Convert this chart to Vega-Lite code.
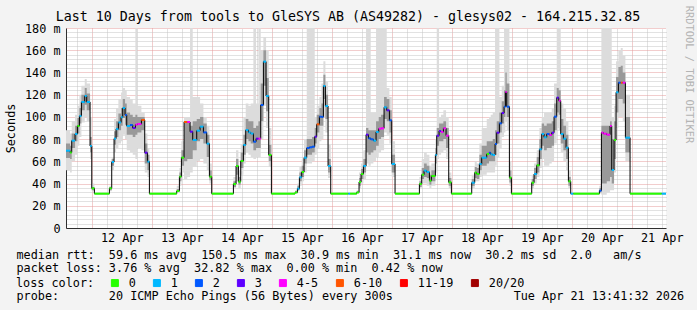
{
"$schema":"https://vega.github.io/schema/vega-lite/v6.json",
"width":600,"height":200,
"autosize":{"type":"none"},
"padding":{"left":66,"top":28,"right":31,"bottom":82},
"background":"#f3f3f3",
"view":{"fill":"#ffffff","stroke":null},
"config":{"font":"DejaVu Sans Mono","axis":{"labelFont":"DejaVu Sans Mono","titleFont":"DejaVu Sans Mono","labelColor":"#000000","titleColor":"#000000","titleFontWeight":"normal","labelFontSize":11.8,"titleFontSize":11.8}},
"title":{"text":"Last 10 Days from tools to GleSYS AB (AS49282) - glesys02 - 164.215.32.85","font":"DejaVu Sans Mono","fontSize":13.3,"fontWeight":"normal","color":"#000000","anchor":"middle","frame":"group","dx":-18,"dy":34,"offset":5,"baseline":"alphabetic"},
"data":{"values":[
{"time":"2026-04-11T13:41:32","median":69.6,"loss":"1","min":52,"max":88,"lo":63,"hi":76},
{"time":"2026-04-11T15:19","median":68,"loss":"0","min":50,"max":85,"lo":62,"hi":74},
{"time":"2026-04-11T15:59","median":78.6,"loss":"1","min":60,"max":96,"lo":72,"hi":85},
{"time":"2026-04-11T17:19","median":84.6,"loss":"1","min":66,"max":102,"lo":78,"hi":92},
{"time":"2026-04-11T18:15","median":91.8,"loss":"0","min":74,"max":110,"lo":85,"hi":99},
{"time":"2026-04-11T19:03","median":100.8,"loss":"1","min":82,"max":120,"lo":94,"hi":108},
{"time":"2026-04-11T19:51","median":113.4,"loss":"1","min":95,"max":128,"lo":106,"hi":120},
{"time":"2026-04-11T21:11","median":118.8,"loss":"1","min":100,"max":134,"lo":111,"hi":126},
{"time":"2026-04-11T21:59","median":113.4,"loss":"1","min":96,"max":130,"lo":106,"hi":121},
{"time":"2026-04-11T23:19","median":73.8,"loss":"1","min":62,"max":100,"lo":68,"hi":82},
{"time":"2026-04-12T00:00","median":35.7,"loss":"0","min":33,"max":40,"lo":34,"hi":37},
{"time":"2026-04-12T01:03","median":30.9,"loss":"0","min":30.4,"max":31.6,"lo":30.9,"hi":30.9},
{"time":"2026-04-12T07:03","median":35.7,"loss":"0","min":33,"max":38,"lo":34,"hi":37},
{"time":"2026-04-12T07:59","median":59.4,"loss":"1","min":52,"max":64,"lo":56,"hi":62},
{"time":"2026-04-12T08:55","median":80.4,"loss":"1","min":68,"max":98,"lo":75,"hi":87},
{"time":"2026-04-12T09:43","median":89,"loss":"1","min":72,"max":108,"lo":82,"hi":96},
{"time":"2026-04-12T10:39","median":95,"loss":"1","min":76,"max":116,"lo":88,"hi":103},
{"time":"2026-04-12T11:43","median":99.6,"loss":"1","min":78,"max":122,"lo":92,"hi":108},
{"time":"2026-04-12T12:23","median":108,"loss":"1","min":84,"max":126,"lo":99,"hi":116},
{"time":"2026-04-12T13:19","median":101.7,"loss":"2","min":80,"max":124,"lo":93,"hi":112},
{"time":"2026-04-12T13:59","median":91.8,"loss":"1","min":70,"max":118,"lo":84,"hi":104},
{"time":"2026-04-12T15:19","median":92.7,"loss":"2","min":68,"max":116,"lo":84,"hi":102},
{"time":"2026-04-12T16:23","median":90,"loss":"3","min":66,"max":112,"lo":82,"hi":100},
{"time":"2026-04-12T17:27","median":93,"loss":"4-5","min":62,"max":200,"lo":84,"hi":102},
{"time":"2026-04-12T18:15","median":93.6,"loss":"4-5","min":72,"max":110,"lo":86,"hi":100},
{"time":"2026-04-12T19:51","median":97.2,"loss":"6-10","min":70,"max":104,"lo":88,"hi":100},
{"time":"2026-04-12T21:11","median":67.8,"loss":"3","min":50,"max":85,"lo":58,"hi":76},
{"time":"2026-04-12T22:15","median":59.7,"loss":"1","min":46,"max":72,"lo":52,"hi":66},
{"time":"2026-04-12T23:03","median":30.9,"loss":"0","min":30.4,"max":31.6,"lo":30.9,"hi":30.9},
{"time":"2026-04-13T09:59","median":33.3,"loss":"0","min":32,"max":38,"lo":32.5,"hi":35},
{"time":"2026-04-13T11:03","median":46.2,"loss":"0","min":38,"max":54,"lo":42,"hi":50},
{"time":"2026-04-13T11:51","median":63.3,"loss":"0","min":50,"max":78,"lo":56,"hi":70},
{"time":"2026-04-13T12:55","median":95.4,"loss":"6-10","min":44,"max":100,"lo":60,"hi":96},
{"time":"2026-04-13T14:12","median":95.4,"loss":"4-5","min":46,"max":100,"lo":62,"hi":95},
{"time":"2026-04-13T15:19","median":86.7,"loss":"3","min":50,"max":200,"lo":62,"hi":92},
{"time":"2026-04-13T16:23","median":79.2,"loss":"1","min":55,"max":118,"lo":70,"hi":96},
{"time":"2026-04-13T17:59","median":87.6,"loss":"1","min":60,"max":118,"lo":78,"hi":98},
{"time":"2026-04-13T19:19","median":91.2,"loss":"1","min":62,"max":112,"lo":80,"hi":100},
{"time":"2026-04-13T20:39","median":86,"loss":"2","min":58,"max":100,"lo":76,"hi":94},
{"time":"2026-04-13T21:59","median":75.9,"loss":"1","min":52,"max":92,"lo":64,"hi":84},
{"time":"2026-04-13T23:03","median":46.2,"loss":"0","min":40,"max":58,"lo":43,"hi":52},
{"time":"2026-04-13T23:59","median":30.9,"loss":"0","min":30.4,"max":31.6,"lo":30.9,"hi":30.9},
{"time":"2026-04-14T08:39","median":39.6,"loss":"0","min":36,"max":46,"lo":37,"hi":42},
{"time":"2026-04-14T09:43","median":55.8,"loss":"0","min":42,"max":70,"lo":48,"hi":62},
{"time":"2026-04-14T10:39","median":41.7,"loss":"0","min":36,"max":52,"lo":39,"hi":46},
{"time":"2026-04-14T11:35","median":60.3,"loss":"0","min":48,"max":75,"lo":54,"hi":68},
{"time":"2026-04-14T12:39","median":74.7,"loss":"1","min":58,"max":100,"lo":66,"hi":84},
{"time":"2026-04-14T13:35","median":88.2,"loss":"1","min":68,"max":112,"lo":80,"hi":98},
{"time":"2026-04-14T14:39","median":86,"loss":"1","min":66,"max":110,"lo":78,"hi":96},
{"time":"2026-04-14T15:35","median":85,"loss":"1","min":64,"max":112,"lo":76,"hi":96},
{"time":"2026-04-14T16:39","median":77.7,"loss":"2","min":62,"max":200,"lo":70,"hi":90},
{"time":"2026-04-14T17:43","median":80.4,"loss":"3","min":64,"max":112,"lo":72,"hi":92},
{"time":"2026-04-14T18:39","median":80.4,"loss":"4-5","min":64,"max":200,"lo":72,"hi":96},
{"time":"2026-04-14T19:35","median":110.7,"loss":"2","min":80,"max":160,"lo":96,"hi":130},
{"time":"2026-04-14T20:39","median":149.7,"loss":"1","min":110,"max":172,"lo":128,"hi":160},
{"time":"2026-04-14T21:43","median":118.8,"loss":"1","min":90,"max":160,"lo":105,"hi":135},
{"time":"2026-04-14T22:47","median":65.7,"loss":"0","min":55,"max":90,"lo":60,"hi":75},
{"time":"2026-04-14T23:51","median":30.9,"loss":"0","min":30.4,"max":31.6,"lo":30.9,"hi":30.9},
{"time":"2026-04-15T09:19","median":32,"loss":"0","min":31,"max":34,"lo":31.5,"hi":33},
{"time":"2026-04-15T10:15","median":35.4,"loss":"1","min":33,"max":40,"lo":34,"hi":38},
{"time":"2026-04-15T11:03","median":45.6,"loss":"1","min":38,"max":55,"lo":42,"hi":50},
{"time":"2026-04-15T11:59","median":50.4,"loss":"0","min":42,"max":62,"lo":46,"hi":56},
{"time":"2026-04-15T12:55","median":63.3,"loss":"1","min":50,"max":80,"lo":58,"hi":70},
{"time":"2026-04-15T13:59","median":72,"loss":"2","min":58,"max":200,"lo":66,"hi":80},
{"time":"2026-04-15T15:03","median":72.6,"loss":"2","min":58,"max":200,"lo":66,"hi":80},
{"time":"2026-04-15T16:07","median":73.2,"loss":"2","min":60,"max":200,"lo":68,"hi":82},
{"time":"2026-04-15T17:11","median":82.2,"loss":"3","min":66,"max":100,"lo":76,"hi":90},
{"time":"2026-04-15T17:59","median":93.3,"loss":"6-10","min":72,"max":110,"lo":86,"hi":102},
{"time":"2026-04-15T19:03","median":100.2,"loss":"2","min":78,"max":118,"lo":92,"hi":108},
{"time":"2026-04-15T19:51","median":100,"loss":"2","min":80,"max":130,"lo":92,"hi":112},
{"time":"2026-04-15T20:39","median":127.8,"loss":"1","min":100,"max":150,"lo":116,"hi":138},
{"time":"2026-04-15T21:27","median":109.8,"loss":"1","min":86,"max":132,"lo":98,"hi":120},
{"time":"2026-04-15T22:31","median":55.8,"loss":"1","min":45,"max":75,"lo":50,"hi":62},
{"time":"2026-04-15T23:35","median":30.9,"loss":"0","min":30.4,"max":31.6,"lo":30.9,"hi":30.9},
{"time":"2026-04-16T06:39","median":30.9,"loss":"1","min":30.4,"max":31.6,"lo":30.9,"hi":30.9},
{"time":"2026-04-16T07:18","median":30.9,"loss":"0","min":30.4,"max":31.6,"lo":30.9,"hi":30.9},
{"time":"2026-04-16T09:59","median":32,"loss":"0","min":31,"max":34,"lo":31.5,"hi":33},
{"time":"2026-04-16T10:55","median":41.4,"loss":"0","min":36,"max":50,"lo":38,"hi":45},
{"time":"2026-04-16T11:43","median":48.6,"loss":"0","min":40,"max":58,"lo":44,"hi":53},
{"time":"2026-04-16T12:39","median":55.8,"loss":"1","min":44,"max":70,"lo":50,"hi":62},
{"time":"2026-04-16T13:43","median":84,"loss":"3","min":58,"max":200,"lo":68,"hi":90},
{"time":"2026-04-16T14:39","median":80.7,"loss":"2","min":56,"max":200,"lo":66,"hi":88},
{"time":"2026-04-16T15:35","median":79.8,"loss":"2","min":58,"max":104,"lo":68,"hi":88},
{"time":"2026-04-16T16:39","median":78.6,"loss":"1","min":60,"max":104,"lo":70,"hi":88},
{"time":"2026-04-16T17:43","median":86.4,"loss":"1","min":64,"max":200,"lo":74,"hi":96},
{"time":"2026-04-16T18:47","median":89.4,"loss":"4-5","min":68,"max":200,"lo":80,"hi":100},
{"time":"2026-04-16T19:43","median":89.7,"loss":"4-5","min":70,"max":200,"lo":82,"hi":102},
{"time":"2026-04-16T20:55","median":108.6,"loss":"1","min":86,"max":200,"lo":98,"hi":118},
{"time":"2026-04-16T21:59","median":105.9,"loss":"3","min":84,"max":126,"lo":96,"hi":116},
{"time":"2026-04-16T23:03","median":96.9,"loss":"2","min":76,"max":118,"lo":86,"hi":106},
{"time":"2026-04-16T23:59","median":57.6,"loss":"1","min":46,"max":78,"lo":50,"hi":66},
{"time":"2026-04-17T01:19","median":30.9,"loss":"0","min":30.4,"max":31.6,"lo":30.9,"hi":30.9},
{"time":"2026-04-17T11:03","median":39.6,"loss":"0","min":36,"max":46,"lo":37,"hi":42},
{"time":"2026-04-17T11:59","median":48,"loss":"0","min":40,"max":62,"lo":44,"hi":54},
{"time":"2026-04-17T12:55","median":51.6,"loss":"1","min":40,"max":68,"lo":46,"hi":58},
{"time":"2026-04-17T13:59","median":50.4,"loss":"1","min":38,"max":66,"lo":45,"hi":56},
{"time":"2026-04-17T15:03","median":42.6,"loss":"0","min":36,"max":56,"lo":39,"hi":48},
{"time":"2026-04-17T15:51","median":46.8,"loss":"0","min":38,"max":58,"lo":42,"hi":52},
{"time":"2026-04-17T17:27","median":65.7,"loss":"1","min":50,"max":80,"lo":58,"hi":72},
{"time":"2026-04-17T17:59","median":83.1,"loss":"3","min":62,"max":200,"lo":74,"hi":90},
{"time":"2026-04-17T18:55","median":87.3,"loss":"3","min":66,"max":100,"lo":78,"hi":94},
{"time":"2026-04-17T19:43","median":86.4,"loss":"4-5","min":68,"max":102,"lo":78,"hi":94},
{"time":"2026-04-17T20:39","median":89.7,"loss":"4-5","min":70,"max":106,"lo":80,"hi":96},
{"time":"2026-04-17T21:43","median":83.1,"loss":"4-5","min":62,"max":100,"lo":72,"hi":90},
{"time":"2026-04-17T22:47","median":41.1,"loss":"0","min":36,"max":50,"lo":38,"hi":45},
{"time":"2026-04-17T23:51","median":30.9,"loss":"0","min":30.4,"max":31.6,"lo":30.9,"hi":30.9},
{"time":"2026-04-18T07:59","median":40.8,"loss":"1","min":36,"max":48,"lo":38,"hi":44},
{"time":"2026-04-18T09:11","median":49.8,"loss":"0","min":42,"max":60,"lo":45,"hi":55},
{"time":"2026-04-18T09:59","median":48.6,"loss":"0","min":42,"max":58,"lo":44,"hi":54},
{"time":"2026-04-18T11:03","median":57.6,"loss":"1","min":46,"max":76,"lo":52,"hi":66},
{"time":"2026-04-18T11:59","median":63.3,"loss":"1","min":48,"max":90,"lo":56,"hi":74},
{"time":"2026-04-18T13:59","median":66.6,"loss":"0","min":50,"max":98,"lo":58,"hi":78},
{"time":"2026-04-18T14:55","median":67.8,"loss":"2","min":50,"max":100,"lo":60,"hi":78},
{"time":"2026-04-18T15:35","median":66.3,"loss":"1","min":50,"max":102,"lo":60,"hi":78},
{"time":"2026-04-18T16:23","median":65.7,"loss":"1","min":50,"max":104,"lo":60,"hi":80},
{"time":"2026-04-18T17:19","median":75.6,"loss":"2","min":56,"max":200,"lo":66,"hi":88},
{"time":"2026-04-18T17:59","median":85.8,"loss":"3","min":64,"max":200,"lo":76,"hi":96},
{"time":"2026-04-18T19:03","median":94.2,"loss":"2","min":72,"max":118,"lo":86,"hi":104},
{"time":"2026-04-18T19:59","median":103.5,"loss":"3","min":82,"max":128,"lo":94,"hi":114},
{"time":"2026-04-18T20:55","median":109.2,"loss":"2","min":86,"max":200,"lo":100,"hi":124},
{"time":"2026-04-18T21:27","median":122.4,"loss":"4-5","min":96,"max":200,"lo":110,"hi":140},
{"time":"2026-04-18T21:59","median":109.2,"loss":"2","min":88,"max":200,"lo":100,"hi":130},
{"time":"2026-04-18T23:03","median":45.3,"loss":"0","min":38,"max":60,"lo":41,"hi":52},
{"time":"2026-04-18T23:51","median":30.9,"loss":"0","min":30.4,"max":31.6,"lo":30.9,"hi":30.9},
{"time":"2026-04-19T07:59","median":40.8,"loss":"0","min":36,"max":48,"lo":38,"hi":44},
{"time":"2026-04-19T08:55","median":48.6,"loss":"1","min":40,"max":58,"lo":44,"hi":54},
{"time":"2026-04-19T09:59","median":56.4,"loss":"0","min":46,"max":70,"lo":50,"hi":64},
{"time":"2026-04-19T11:03","median":70.8,"loss":"1","min":54,"max":90,"lo":62,"hi":80},
{"time":"2026-04-19T11:59","median":84.6,"loss":"1","min":62,"max":100,"lo":74,"hi":94},
{"time":"2026-04-19T12:55","median":81.6,"loss":"1","min":56,"max":104,"lo":70,"hi":92},
{"time":"2026-04-19T13:59","median":84.6,"loss":"2","min":56,"max":104,"lo":72,"hi":94},
{"time":"2026-04-19T15:03","median":83.7,"loss":"4-5","min":58,"max":104,"lo":72,"hi":94},
{"time":"2026-04-19T15:59","median":85.8,"loss":"3","min":60,"max":108,"lo":74,"hi":96},
{"time":"2026-04-19T16:55","median":100.2,"loss":"2","min":76,"max":130,"lo":88,"hi":112},
{"time":"2026-04-19T17:59","median":117.3,"loss":"3","min":90,"max":200,"lo":104,"hi":126},
{"time":"2026-04-19T18:47","median":114.6,"loss":"4-5","min":88,"max":200,"lo":102,"hi":124},
{"time":"2026-04-19T19:35","median":84.6,"loss":"1","min":68,"max":112,"lo":76,"hi":98},
{"time":"2026-04-19T20:39","median":80.4,"loss":"1","min":60,"max":108,"lo":70,"hi":92},
{"time":"2026-04-19T21:43","median":72.3,"loss":"1","min":52,"max":96,"lo":62,"hi":84},
{"time":"2026-04-19T22:39","median":42,"loss":"0","min":36,"max":52,"lo":38,"hi":46},
{"time":"2026-04-19T23:35","median":30.9,"loss":"1","min":30.4,"max":31.6,"lo":30.9,"hi":30.9},
{"time":"2026-04-20T00:39","median":30.9,"loss":"0","min":30.4,"max":31.6,"lo":30.9,"hi":30.9},
{"time":"2026-04-20T11:03","median":33.6,"loss":"2","min":31,"max":38,"lo":32,"hi":36},
{"time":"2026-04-20T11:51","median":85.8,"loss":"4-5","min":30,"max":200,"lo":40,"hi":92},
{"time":"2026-04-20T12:39","median":84.9,"loss":"4-5","min":30,"max":200,"lo":40,"hi":92},
{"time":"2026-04-20T13:59","median":84,"loss":"4-5","min":32,"max":200,"lo":42,"hi":92},
{"time":"2026-04-20T15:19","median":91.8,"loss":"4-5","min":34,"max":200,"lo":46,"hi":96},
{"time":"2026-04-20T15:59","median":52.2,"loss":"1","min":34,"max":100,"lo":40,"hi":80},
{"time":"2026-04-20T16:55","median":79.2,"loss":"0","min":50,"max":110,"lo":62,"hi":96},
{"time":"2026-04-20T17:43","median":122.1,"loss":"1","min":90,"max":150,"lo":104,"hi":136},
{"time":"2026-04-20T18:39","median":130.8,"loss":"2","min":100,"max":160,"lo":116,"hi":145},
{"time":"2026-04-20T19:35","median":130.8,"loss":"6-10","min":100,"max":162,"lo":116,"hi":146},
{"time":"2026-04-20T20:23","median":130.8,"loss":"4-5","min":96,"max":155,"lo":112,"hi":140},
{"time":"2026-04-20T21:27","median":81.3,"loss":"1","min":60,"max":120,"lo":68,"hi":100},
{"time":"2026-04-20T23:19","median":30.9,"loss":"0","min":30.4,"max":31.6,"lo":30.9,"hi":30.9},
{"time":"2026-04-21T11:59","median":30.9,"loss":"1","min":30.4,"max":31.6,"lo":30.9,"hi":30.9},
{"time":"2026-04-21T13:41:32","median":30.9,"loss":"1","min":30.4,"max":31.6,"lo":30.9,"hi":30.9}
]},
"layer":[
{"mark":{"type":"area","interpolate":"step-after","color":"#dcdcdc","clip":true},
 "encoding":{
  "x":{"field":"time","type":"temporal","scale":{"domain":[{"year":2026,"month":4,"date":11,"hours":13,"minutes":41,"seconds":32},{"year":2026,"month":4,"date":21,"hours":13,"minutes":41,"seconds":32}],"nice":false},
   "axis":{"orient":"top","values":[
{"year":2026,"month":4,"date":11,"hours":18},
{"year":2026,"month":4,"date":12,"hours":6},{"year":2026,"month":4,"date":12,"hours":12},{"year":2026,"month":4,"date":12,"hours":18},
{"year":2026,"month":4,"date":13,"hours":6},{"year":2026,"month":4,"date":13,"hours":12},{"year":2026,"month":4,"date":13,"hours":18},
{"year":2026,"month":4,"date":14,"hours":6},{"year":2026,"month":4,"date":14,"hours":12},{"year":2026,"month":4,"date":14,"hours":18},
{"year":2026,"month":4,"date":15,"hours":6},{"year":2026,"month":4,"date":15,"hours":12},{"year":2026,"month":4,"date":15,"hours":18},
{"year":2026,"month":4,"date":16,"hours":6},{"year":2026,"month":4,"date":16,"hours":12},{"year":2026,"month":4,"date":16,"hours":18},
{"year":2026,"month":4,"date":17,"hours":6},{"year":2026,"month":4,"date":17,"hours":12},{"year":2026,"month":4,"date":17,"hours":18},
{"year":2026,"month":4,"date":18,"hours":6},{"year":2026,"month":4,"date":18,"hours":12},{"year":2026,"month":4,"date":18,"hours":18},
{"year":2026,"month":4,"date":19,"hours":6},{"year":2026,"month":4,"date":19,"hours":12},{"year":2026,"month":4,"date":19,"hours":18},
{"year":2026,"month":4,"date":20,"hours":6},{"year":2026,"month":4,"date":20,"hours":12},{"year":2026,"month":4,"date":20,"hours":18},
{"year":2026,"month":4,"date":21,"hours":6},{"year":2026,"month":4,"date":21,"hours":12}
   ],"grid":true,"gridColor":"#c4c4c4","gridDash":[1,1],"labels":false,"ticks":false,"domain":false,"title":null}},
  "y":{"field":"min","type":"quantitative","scale":{"domain":[0,180],"nice":false},
   "axis":{"orient":"right","values":[4,8,12,16,24,28,32,36,44,48,52,56,64,68,72,76,84,88,92,96,104,108,112,116,124,128,132,136,144,148,152,156,164,168,172,176],"grid":true,"gridColor":"#c4c4c4","gridDash":[1,1],"labels":false,"ticks":false,"domain":false,
    "title":"RRDTOOL / TOBI OETIKER","titleAngle":90,"titleX":22,"titleY":46,"titleAlign":"center","titleBaseline":"middle","titleColor":"#b4b4b4","titleFontSize":10.4}},
  "y2":{"field":"max"}
 }},
{"mark":{"type":"area","interpolate":"step-after","color":"#999999","clip":true},
 "encoding":{
  "x":{"field":"time","type":"temporal",
   "axis":{"orient":"bottom","values":[
{"year":2026,"month":4,"date":12},{"year":2026,"month":4,"date":13},{"year":2026,"month":4,"date":14},{"year":2026,"month":4,"date":15},{"year":2026,"month":4,"date":16},{"year":2026,"month":4,"date":17},{"year":2026,"month":4,"date":18},{"year":2026,"month":4,"date":19},{"year":2026,"month":4,"date":20},{"year":2026,"month":4,"date":21}
   ],"format":"%d %b","labelOffset":30,"labelFlush":false,"labelOverlap":false,"grid":true,"gridColor":"#e49a9a","gridDash":[1,1],"ticks":false,"labelPadding":4,"domainColor":"#303030",
   "title":["median rtt:\u00a0\u00a059.6 ms avg\u00a0\u00a0150.5 ms max\u00a0\u00a030.9 ms min\u00a0\u00a031.1 ms now\u00a0\u00a030.2 ms sd\u00a0\u00a02.0\u00a0\u00a0\u00a0am/s","packet loss: 3.76 % avg\u00a0\u00a032.82 % max\u00a0\u00a00.00 % min\u00a0\u00a00.42 % now","\u200b","probe:\u00a0\u00a0\u00a0\u00a0\u00a0\u00a0\u00a020 ICMP Echo Pings (56 Bytes) every 300s\u00a0\u00a0\u00a0\u00a0\u00a0\u00a0\u00a0\u00a0\u00a0\u00a0\u00a0\u00a0\u00a0\u00a0\u00a0\u00a0\u00a0Tue Apr 21 13:41:32 2026"],
   "titleX":-50,"titleY":30,"titleAlign":"left","titleAnchor":"start","titleBaseline":"alphabetic","titleLineHeight":13.9}},
  "y":{"field":"lo","type":"quantitative",
   "axis":{"orient":"left","values":[0,20,40,60,80,100,120,140,160,180],"labelExpr":"datum.value == 0 ? '0' : datum.value + ' m'","grid":true,"gridColor":"#e49a9a","gridDash":[1,1],"ticks":false,"labelPadding":6,"domainColor":"#303030",
    "title":"Seconds","titleX":-56,"titleY":100,"titleAlign":"center","titleBaseline":"middle","titleAngle":270}},
  "y2":{"field":"hi"}
 }},
{"mark":{"type":"line","interpolate":"step-after","color":"#000000","strokeWidth":1,"clip":true},
 "encoding":{"x":{"field":"time","type":"temporal","axis":null},"y":{"field":"median","type":"quantitative","axis":null}}},
{"transform":[{"window":[{"op":"lead","field":"time","as":"time2"}],"sort":[{"field":"time"}]},{"filter":"datum.time2 != null"}],
 "mark":{"type":"rule","strokeWidth":2,"clip":true},
 "encoding":{"x":{"field":"time","type":"temporal","axis":null},"x2":{"field":"time2"},"y":{"field":"median","type":"quantitative","axis":null},
  "color":{"field":"loss","type":"nominal","scale":{"domain":["0","1","2","3","4-5","6-10","11-19","20/20"],"range":["#26ff00","#00b8ff","#0059ff","#5e00ff","#ff00ff","#ff5500","#ff0000","#a10000"]},
   "legend":{"orient":"none","legendX":-50,"legendY":249,"direction":"horizontal","title":"loss color:","titleOrient":"left","titleFont":"DejaVu Sans Mono","titleFontSize":11.8,"titleFontWeight":"normal","titleColor":"#000000","titlePadding":14,"labelFont":"DejaVu Sans Mono","labelFontSize":11.8,"labelColor":"#000000","symbolType":"square","symbolSize":49,"symbolStrokeWidth":1,"symbolStrokeColor":"#000000","labelOffset":8,"columnPadding":15,
    "encode":{"symbols":{"update":{"fill":{"scale":"color","field":"value"},"stroke":{"value":"#000000"},"opacity":{"value":1},"fillOpacity":{"value":1}}}}}}}}
],
"resolve":{"axis":{"x":"independent","y":"independent"}}
}
